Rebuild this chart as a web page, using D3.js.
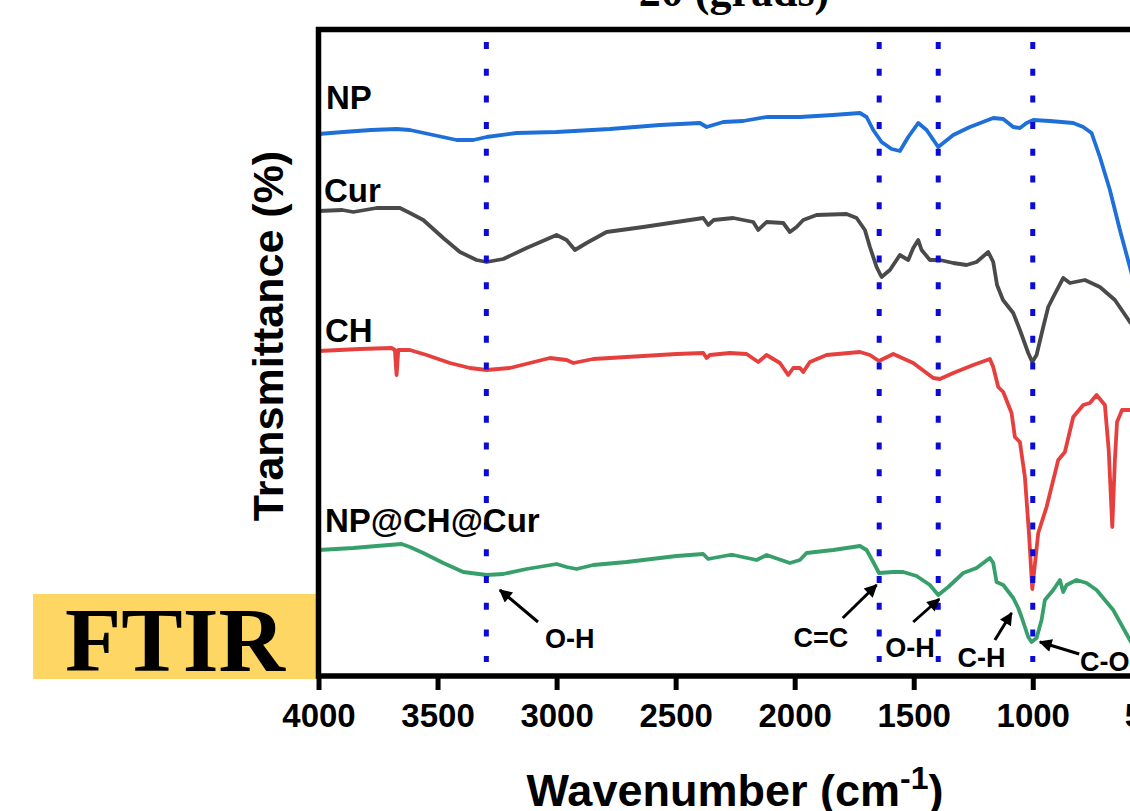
<!DOCTYPE html>
<html>
<head>
<meta charset="utf-8">
<script src="https://cdn.jsdelivr.net/npm/d3@7"></script>
<style>
  html, body { margin: 0; padding: 0; background: #fff; }
  svg { display: block; }
</style>
</head>
<body>
<svg id="chart" width="1130" height="811"></svg>
<script>
// FTIR spectra, stacked with vertical offsets: [wavenumber (cm-1), transmittance (offset, a.u.)]
const npSpectrum = [
  [4000,54.2],[3896,54.4],[3780,54.6],[3672,54.7],[3616,54.6],[3518,54.1],[3420,53.6],[3350,53.6],
  [3294,53.9],[3168,54.3],[3000,54.4],[2776,54.7],[2566,55.1],[2398,55.3],[2370,54.9],[2300,55.4],
  [2216,55.5],[2118,55.9],[1978,55.9],[1839,56.1],[1726,56.3],[1698,55.9],[1670,54.6],[1635,53.4],
  [1593,52.7],[1558,52.5],[1523,53.9],[1481,55.3],[1446,54.6],[1397,52.9],[1334,54.1],[1264,54.9],
  [1166,55.8],[1124,55.7],[1082,54.9],[1054,54.8],[1026,55.3],[998,55.6],[928,55.5],[830,55.3],
  [788,54.9],[753,54.3],[718,51.9],[676,48.6],[634,44.6],[592,40.9],[550,37.0],[500,33.0]
];
const curSpectrum = [
  [4000,46.5],[3900,46.6],[3854,46.4],[3756,46.8],[3658,46.8],[3616,46.3],[3560,45.6],[3476,43.8],
  [3406,42.4],[3336,41.6],[3294,41.4],[3224,41.7],[3126,42.8],[3000,44.1],[2958,43.6],[2923,42.6],
  [2874,43.3],[2790,44.4],[2636,44.9],[2496,45.4],[2384,45.8],[2363,45.1],[2340,45.6],[2258,45.8],
  [2174,45.4],[2153,44.6],[2118,45.4],[2048,45.3],[2020,44.4],[1992,44.9],[1964,45.6],[1908,46.1],
  [1782,46.2],[1740,45.8],[1705,44.6],[1684,42.9],[1656,40.9],[1635,39.9],[1600,40.6],[1558,42.1],
  [1523,41.6],[1502,42.8],[1481,43.6],[1467,42.6],[1432,41.6],[1390,41.6],[1334,41.3],[1278,41.1],
  [1236,41.4],[1187,42.4],[1166,41.4],[1150,39.1],[1125,37.6],[1082,36.3],[1054,34.6],[1019,32.3],
  [1002,31.4],[984,32.1],[956,34.9],[935,36.9],[914,37.9],[872,39.8],[844,39.3],[781,39.6],
  [718,38.9],[655,37.6],[592,35.4],[550,34.5],[500,33.5]
];
const chSpectrum = [
  [4000,32.5],[3826,32.7],[3693,32.8],[3679,32.6],[3675,31.0],[3672,30.1],[3668,31.5],[3665,32.6],
  [3616,32.6],[3546,32.1],[3448,31.3],[3364,30.8],[3294,30.6],[3196,30.8],[3112,31.3],[3028,31.8],
  [2958,31.6],[2930,31.3],[2846,31.7],[2706,31.9],[2496,32.2],[2384,32.3],[2370,31.8],[2356,32.1],
  [2272,32.3],[2202,32.2],[2153,31.4],[2118,32.1],[2062,31.3],[2027,30.1],[2006,30.8],[1978,30.8],
  [1964,30.4],[1936,31.4],[1866,32.1],[1726,32.4],[1684,32.1],[1646,31.5],[1586,32.2],[1502,31.3],
  [1418,29.8],[1390,29.7],[1334,30.3],[1250,31.1],[1180,31.7],[1166,30.9],[1145,28.9],[1124,28.4],
  [1089,26.3],[1075,23.9],[1054,23.4],[1033,19.9],[1016,14.3],[1002,8.7],[977,14.3],[942,16.9],
  [893,21.6],[865,22.4],[830,25.9],[788,27.1],[760,27.3],[732,28.1],[697,27.1],[681,22.6],
  [666,14.9],[655,21.6],[646,25.4],[625,26.6],[592,26.6],[550,26.4],[500,26.2]
];
const compositeSpectrum = [
  [4000,12.6],[3854,12.8],[3756,13.0],[3651,13.2],[3616,12.9],[3560,12.3],[3476,11.3],[3392,10.4],
  [3294,10.1],[3224,10.2],[3126,10.7],[3000,11.2],[2958,10.9],[2916,10.7],[2846,11.1],[2706,11.4],
  [2496,12.0],[2384,12.2],[2363,11.7],[2342,11.8],[2272,12.1],[2258,12.1],[2160,11.6],[2118,12.1],
  [2020,11.3],[1978,11.6],[1950,12.3],[1838,12.6],[1726,13.0],[1698,12.6],[1670,11.4],[1646,10.3],
  [1586,10.4],[1544,10.4],[1488,10.0],[1432,9.1],[1397,8.1],[1355,8.9],[1292,10.3],[1236,10.8],
  [1180,11.8],[1166,11.3],[1152,9.4],[1124,9.1],[1082,7.8],[1061,6.8],[1047,5.9],[1019,3.9],
  [1005,3.4],[984,3.8],[963,5.6],[949,7.6],[914,8.6],[886,9.6],[872,8.4],[858,9.1],
  [816,9.6],[774,9.3],[732,8.6],[662,6.6],[592,3.6],[550,1.8],[500,0]
];

const seriesNames = ["NP", "Cur", "CH", "NP@CH@Cur"];
const seriesColors = ["#1f6fd8", "#4a4a4a", "#e6403e", "#37a06a"];
const seriesData = [npSpectrum, curSpectrum, chSpectrum, compositeSpectrum];

const tickValues = [4000, 3500, 3000, 2500, 2000, 1500, 1000, 500];
const bandLines = [3295, 1645, 1397, 1000];

const FONT = "'Liberation Sans', Arial, Helvetica, sans-serif";
const SERIF = "'Liberation Serif', 'Times New Roman', serif";

const svg = d3.select("#chart");

const plotLeft = 318.5, plotRight = 1151.8, plotTop = 29.5, plotBottom = 676;
const x = d3.scaleLinear().domain([4000, 500]).range([plotLeft, plotRight]);
const y = d3.scaleLinear().domain([0, 64.65]).range([plotBottom, plotTop]);

// partial secondary title above the frame
svg.append("text")
  .attr("x", 734).attr("y", 6)
  .attr("text-anchor", "middle")
  .style("font-family", SERIF).style("font-weight", "bold").style("font-size", "44px")
  .text("2θ (grads)");

// FTIR badge
svg.append("rect")
  .attr("x", 33).attr("y", 594).attr("width", 283).attr("height", 85)
  .attr("fill", "#fdd663");
svg.append("text")
  .attr("x", 175).attr("y", 671)
  .attr("text-anchor", "middle")
  .style("font-family", SERIF).style("font-weight", "bold").style("font-size", "92px")
  .attr("fill", "#000")
  .text("FTIR");

// clip region for the spectra
const defs = svg.append("defs");
defs.append("clipPath").attr("id", "plotClip")
  .append("rect").attr("x", plotLeft).attr("y", plotTop)
  .attr("width", plotRight - plotLeft).attr("height", plotBottom - plotTop);

const line = d3.line()
  .x(d => x(d[0]))
  .y(d => y(d[1]))
  .curve(d3.curveLinear);

const plot = svg.append("g").attr("clip-path", "url(#plotClip)");
seriesData.forEach((data, i) => {
  plot.append("path")
    .datum(data)
    .attr("d", line)
    .attr("fill", "none")
    .attr("stroke", seriesColors[i])
    .attr("stroke-width", 3.8)
    .attr("stroke-linejoin", "round")
    .attr("stroke-linecap", "round");
});

// dotted band markers
svg.append("g").selectAll("line")
  .data(bandLines)
  .join("line")
  .attr("x1", d => x(d)).attr("x2", d => x(d))
  .attr("y1", 42).attr("y2", 662)
  .attr("stroke", "#0b0bd6")
  .attr("stroke-width", 5)
  .attr("stroke-dasharray", "7 19.7");

// series labels
const labelPos = [[326, 109], [324, 202], [325, 342], [325, 532]];
svg.append("g").selectAll("text")
  .data(seriesNames)
  .join("text")
  .attr("x", (d, i) => labelPos[i][0])
  .attr("y", (d, i) => labelPos[i][1])
  .style("font-family", FONT).style("font-weight", "bold").style("font-size", "33px")
  .attr("fill", "#000")
  .text(d => d);

// frame
svg.append("rect")
  .attr("x", plotLeft).attr("y", plotTop)
  .attr("width", plotRight - plotLeft).attr("height", plotBottom - plotTop)
  .attr("fill", "none").attr("stroke", "#000").attr("stroke-width", 5.5);

// bottom axis
const xAxis = d3.axisBottom(x).tickValues(tickValues).tickSize(14).tickSizeOuter(0).tickFormat(d3.format("d"));
const gx = svg.append("g").attr("transform", `translate(0,${plotBottom})`).call(xAxis);
gx.select(".domain").remove();
gx.selectAll(".tick line").attr("stroke", "#000").attr("stroke-width", 5);
gx.selectAll(".tick text")
  .attr("y", 51).attr("dy", 0)
  .attr("fill", "#000")
  .style("font-family", FONT).style("font-weight", "bold").style("font-size", "33px");

// axis titles
const xt = svg.append("text")
  .attr("x", 735).attr("y", 806)
  .attr("text-anchor", "middle")
  .style("font-family", FONT).style("font-weight", "bold").style("font-size", "45px")
  .attr("fill", "#000");
xt.append("tspan").text("Wavenumber (cm");
xt.append("tspan").attr("dy", -17).style("font-size", "32px").text("-1");
xt.append("tspan").attr("dy", 17).text(")");

svg.append("text")
  .attr("transform", "translate(283,336) rotate(-90)")
  .attr("text-anchor", "middle")
  .style("font-family", FONT).style("font-weight", "bold").style("font-size", "43px")
  .attr("fill", "#000")
  .text("Transmittance (%)");

// band annotations: arrow tail/head in data units, label anchor in data units
defs.append("marker")
  .attr("id", "arrowHead")
  .attr("markerUnits", "userSpaceOnUse")
  .attr("viewBox", "0 0 10 10")
  .attr("refX", 9).attr("refY", 5)
  .attr("markerWidth", 15).attr("markerHeight", 13)
  .attr("orient", "auto")
  .append("path").attr("d", "M0,0 L10,5 L0,10 z").attr("fill", "#000");

const annotations = [
  { text: "O-H", tail: [3078, 5.4], head: [3238, 8.6], label: [3049, 2.8], anchor: "start" },
  { text: "C=C", tail: [1798, 5.8], head: [1656, 9.1], label: [1890, 2.9], anchor: "middle" },
  { text: "O-H", tail: [1502, 5.4], head: [1393, 7.7], label: [1516, 1.9], anchor: "middle" },
  { text: "C-H", tail: [1159, 3.6], head: [1089, 6.3], label: [1215, 0.9], anchor: "middle" },
  { text: "C-O", tail: [805, 2.2], head: [970, 3.4], label: [802, 0.5], anchor: "start" }
];
const ann = svg.append("g");
annotations.forEach(a => {
  ann.append("line")
    .attr("x1", x(a.tail[0])).attr("y1", y(a.tail[1]))
    .attr("x2", x(a.head[0])).attr("y2", y(a.head[1]))
    .attr("stroke", "#000").attr("stroke-width", 3)
    .attr("marker-end", "url(#arrowHead)");
  ann.append("text")
    .attr("x", x(a.label[0])).attr("y", y(a.label[1]))
    .attr("text-anchor", a.anchor)
    .style("font-family", FONT).style("font-weight", "bold").style("font-size", "27px")
    .attr("fill", "#000")
    .text(a.text);
});
</script>
</body>
</html>
